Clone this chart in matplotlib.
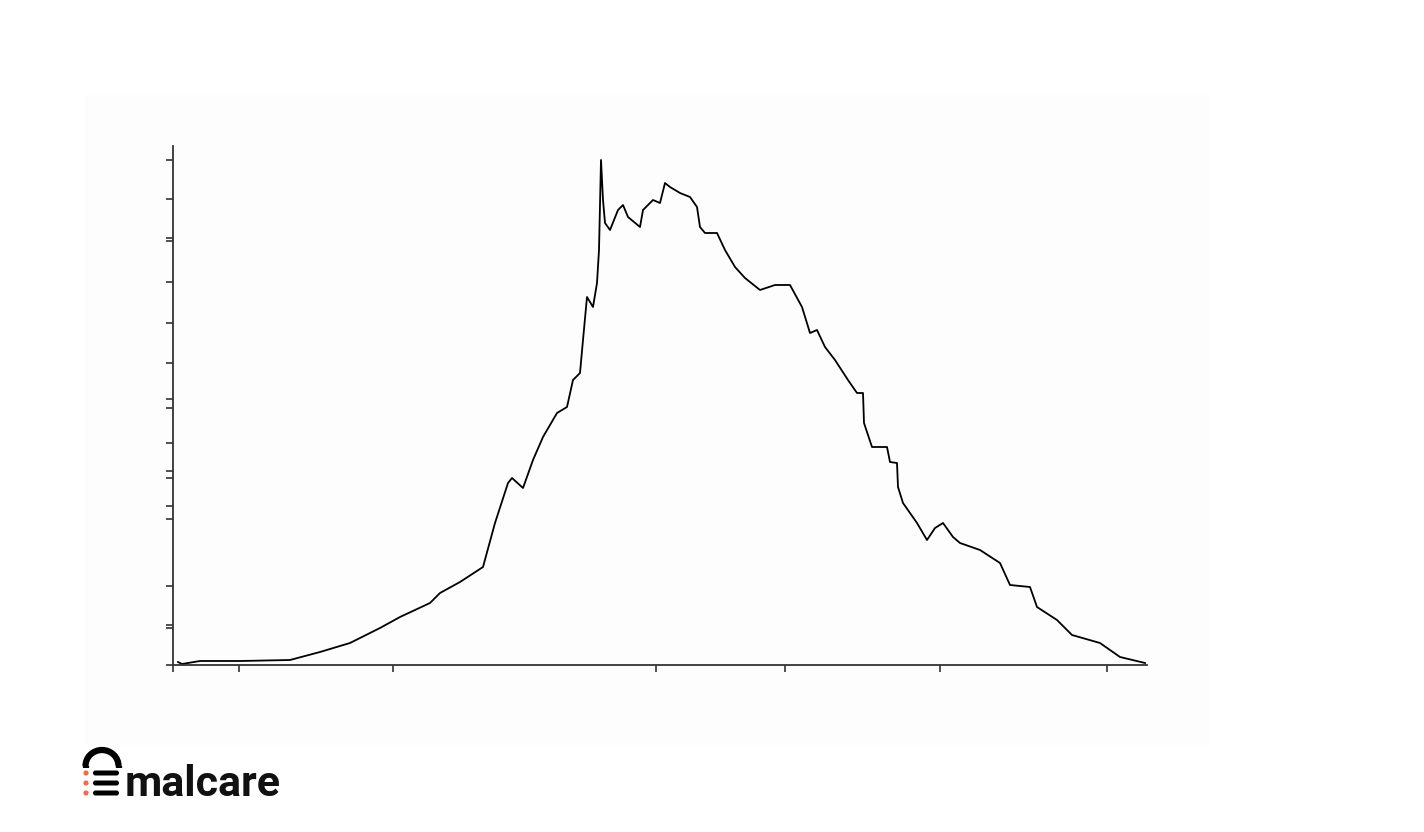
import matplotlib.pyplot as plt
from matplotlib.patches import Arc, Circle, FancyBboxPatch, Rectangle

# curve (x = distance from y axis, y = height above x axis, in px)
xs = [5, 9, 27, 67, 117, 147, 177, 207, 227, 257, 267, 287, 310, 322, 335,
      339, 350, 360, 370, 384, 394, 400, 407, 410, 414, 420, 424, 426, 428, 430,
      432, 437, 445, 450, 455, 467, 470, 480, 487, 492, 497, 507, 517, 524, 527,
      532, 544, 552, 562, 572, 587, 602, 617, 629, 637, 644, 652, 662, 675, 684,
      690, 691, 699, 714, 717, 724, 725, 730, 744, 754, 762, 770, 780, 787, 807,
      827, 837, 857, 864, 884, 899, 927, 937, 947, 972]
ys = [3, 1, 4, 4, 5, 13, 22, 37, 48, 62, 72, 83, 98, 142, 182,
      187, 177, 205, 228, 252, 258, 285, 292, 325, 368, 358, 382, 415, 505, 465,
      442, 435, 455, 460, 448, 438, 455, 465, 462, 482, 478, 472, 468, 458, 438,
      432, 432, 415, 398, 387, 375, 380, 380, 358, 332, 335, 318, 305, 285, 272,
      272, 242, 218, 218, 203, 202, 178, 162, 142, 125, 137, 142, 128, 122, 115,
      102, 80, 78, 58, 45, 30, 22, 15, 8, 2]

xtick_pos = [0, 66, 220, 483, 612, 767, 934]
ytick_pos = [0, 37, 40, 79, 146, 159, 187, 194, 222, 257, 266, 302, 342, 383,
             424, 427, 466, 505]

W, H = 1424, 832
fig = plt.figure(figsize=(W / 100, H / 100), dpi=100)
fig.patch.set_facecolor('white')

# very faint panel behind the chart
bg = fig.add_axes([0, 0, 1, 1])
bg.set_xlim(0, W)
bg.set_ylim(H, 0)
bg.axis('off')
bg.add_patch(Rectangle((85, 95), 1125, 650, facecolor='#fdfdfe', edgecolor='none'))

ax = fig.add_axes([173 / W, (H - 665) / H, (1147 - 173) / W, (665 - 146) / H])
ax.set_facecolor('none')
ax.plot(xs, ys, color='black', lw=1.3)
ax.set_xlim(0, 974)
ax.set_ylim(0, 519)
ax.spines['top'].set_visible(False)
ax.spines['right'].set_visible(False)
for s in ['left', 'bottom']:
    ax.spines[s].set_color('#333333')
    ax.spines[s].set_linewidth(1.3)
ax.set_xticks(xtick_pos)
ax.set_yticks(ytick_pos)
ax.set_xticklabels([])
ax.set_yticklabels([])
ax.tick_params(direction='out', length=5, width=1.2, color='#333333')

# logo
lg = fig.add_axes([0, 0, 1, 1])
lg.set_xlim(0, W)
lg.set_ylim(H, 0)
lg.axis('off')
lg.add_patch(Arc((102, 766), 33, 32, theta1=180, theta2=360, lw=4.5, color='black'))
lg.plot([85.5, 85.5], [766, 768], color='black', lw=4.5, solid_capstyle='butt')
lg.plot([118.5, 118.5], [766, 768], color='black', lw=4.5, solid_capstyle='butt')
for yy in [773, 783, 793]:
    lg.add_patch(FancyBboxPatch((93, yy - 2.5), 26, 5, boxstyle='round,pad=0,rounding_size=2.5',
                                facecolor='black', edgecolor='none'))
    lg.add_patch(Circle((86, yy), 2.6, facecolor='#f26b4a', edgecolor='none'))
lg.text(125, 796, 'malcare', fontsize=31, fontweight='bold', family='Roboto',
        color='#111111', ha='left', va='baseline')

fig.savefig('out.png', dpi=100)
